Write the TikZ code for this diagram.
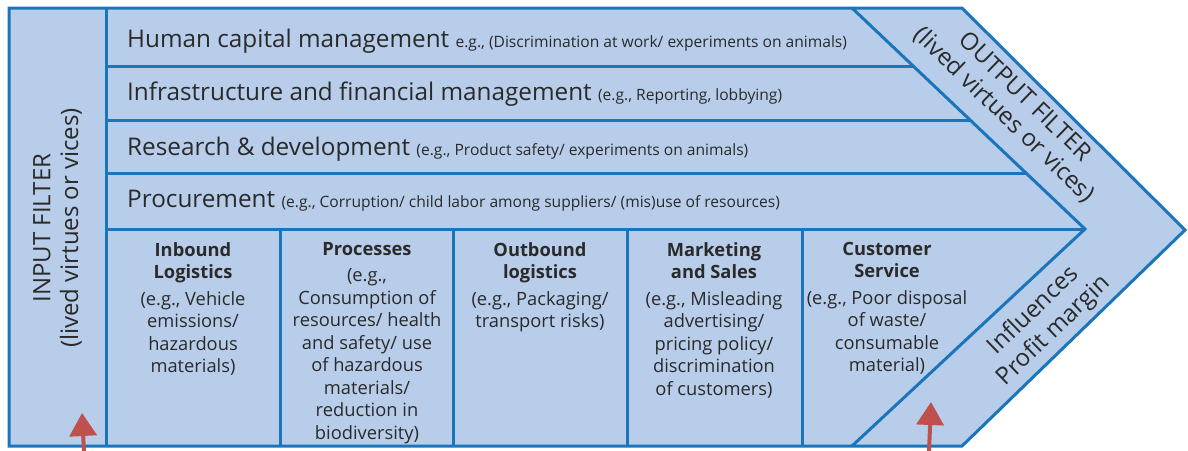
\documentclass[tikz,border=0pt]{standalone}
\usepackage{fontspec}
\setmainfont{Open Sans}
\usetikzlibrary{arrows.meta}
\definecolor{fillb}{HTML}{B8CDE9}
\definecolor{lineb}{HTML}{1B75BB}
\definecolor{txt}{HTML}{2A2A2A}
\definecolor{arr}{HTML}{C0504D}
\begin{document}
\begin{tikzpicture}[x=1pt,y=-1pt,
  frame/.style={draw=lineb,line width=3pt,line join=miter},
  rowlabel/.style={anchor=base west,inner sep=0pt,text=txt,font=\fontsize{24.3}{28}\selectfont},
  cell/.style={anchor=north,inner sep=0pt,align=center,text=txt,font=\fontsize{18.3}{22.5}\selectfont},
  biglabel/.style={inner sep=0pt,text=txt,font=\fontsize{24}{28}\selectfont},
  redarrow/.style={draw=arr,line width=4pt,-{Triangle[width=27pt,length=23pt]}}]
\useasboundingbox (0,0) rectangle (1188,450);
% outer shape
\path[frame,fill=fillb] (9,8) -- (962,8) -- (1185,230) -- (962,446) -- (9,446) -- cycle;
% inner lines
\draw[frame] (106,8) -- (106,446);
\draw[frame] (852,8) -- (1085,229) -- (852,446);
\draw[frame] (106,66) -- (913,66);
\draw[frame] (106,120) -- (970,120);
\draw[frame] (106,173) -- (1026,173);
\draw[frame] (106,229) -- (1085,229);
\foreach \x in {280,453,627,802} \draw[frame] (\x,229) -- (\x,446);
% row labels
\newcommand{\sm}[1]{{\fontsize{15.6}{18}\selectfont #1}}
\node[rowlabel] (hcm) at (127,47) {Human capital management \sm{e.g., (Discrimination at work/ experiments on animals)}};
\node[rowlabel] (ifm) at (127,100) {Infrastructure and financial management \sm{(e.g., Reporting, lobbying)}};
\node[rowlabel] (rd) at (127,155) {Research \& development \sm{(e.g., Product safety/ experiments on animals)}};
\node[rowlabel] (proc) at (127,207) {Procurement \sm{(e.g., Corruption/ child labor among suppliers/ (mis)use of resources)}};
% cells
\node[cell] (inb) at (193,242) {\textbf{Inbound}\\\textbf{Logistics}\\[4pt](e.g., Vehicle\\emissions/\\hazardous\\materials)};
\node[cell] (prc) at (367,242) {\textbf{Processes}\\[4pt](e.g.,\\Consumption of\\resources/ health\\and safety/ use\\of hazardous\\materials/\\reduction in\\biodiversity)};
\node[cell] (outb) at (540,242) {\textbf{Outbound}\\\textbf{logistics}\\[4pt](e.g., Packaging/\\transport risks)};
\node[cell] (mkt) at (714,242) {\textbf{Marketing}\\\textbf{and Sales}\\[4pt](e.g., Misleading\\advertising/\\pricing policy/\\discrimination\\of customers)};
\node[cell] (cs) at (887,242) {\textbf{Customer}\\\textbf{Service}\\[4pt](e.g., Poor disposal\\of waste/\\consumable\\material)};
% filters
\node[biglabel,rotate=90] (inf) at (42,228) {INPUT FILTER};
\node[biglabel,rotate=90] (inv) at (71,228) {(lived virtues or vices)};
\node[biglabel,rotate=-44] (outf) at (1026,96) {OUTPUT FILTER};
\node[biglabel,rotate=-44] (outv) at (1004,115) {(lived virtues or vices)};
\node[biglabel,rotate=44] (infl) at (1032,309) {Influences};
\node[biglabel,rotate=44] (prof) at (1054,331) {Profit margin};
% arrows
\coordinate (a1s) at (84,452);
\coordinate (a1e) at (82,413);
\coordinate (a2s) at (929,452);
\coordinate (a2e) at (931,402);
\draw[redarrow] (a1s) -- (a1e);
\draw[redarrow] (a2s) -- (a2e);
\end{tikzpicture}
\end{document}
